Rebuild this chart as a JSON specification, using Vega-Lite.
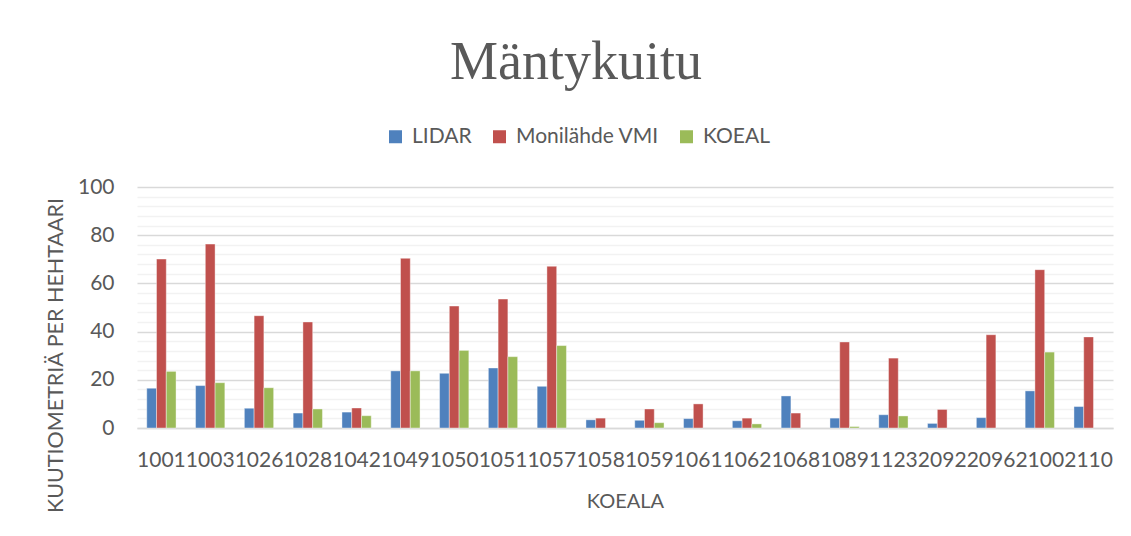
{
  "$schema": "https://vega.github.io/schema/vega-lite/v6.json",
  "autosize": {"type": "none"},
  "width": 976,
  "height": 241,
  "padding": {"left": 137, "top": 187, "right": 18, "bottom": 108},
  "background": "white",
  "title": {
    "text": "Mäntykuitu",
    "font": "Liberation Serif",
    "fontSize": 54,
    "fontWeight": "normal",
    "color": "#595959",
    "anchor": "middle",
    "frame": "group",
    "dx": -49,
    "offset": 36
  },
  "data": {
    "values": [
      {"koeala": "1001", "sarja": "LIDAR", "arvo": 16.5},
      {"koeala": "1001", "sarja": "Monilähde VMI", "arvo": 70.1},
      {"koeala": "1001", "sarja": "KOEAL", "arvo": 23.5},
      {"koeala": "1003", "sarja": "LIDAR", "arvo": 17.6},
      {"koeala": "1003", "sarja": "Monilähde VMI", "arvo": 76.3},
      {"koeala": "1003", "sarja": "KOEAL", "arvo": 18.8},
      {"koeala": "1026", "sarja": "LIDAR", "arvo": 8.2},
      {"koeala": "1026", "sarja": "Monilähde VMI", "arvo": 46.6},
      {"koeala": "1026", "sarja": "KOEAL", "arvo": 16.7},
      {"koeala": "1028", "sarja": "LIDAR", "arvo": 6.2},
      {"koeala": "1028", "sarja": "Monilähde VMI", "arvo": 44.0},
      {"koeala": "1028", "sarja": "KOEAL", "arvo": 7.9},
      {"koeala": "1042", "sarja": "LIDAR", "arvo": 6.6},
      {"koeala": "1042", "sarja": "Monilähde VMI", "arvo": 8.3},
      {"koeala": "1042", "sarja": "KOEAL", "arvo": 5.1},
      {"koeala": "1049", "sarja": "LIDAR", "arvo": 23.7},
      {"koeala": "1049", "sarja": "Monilähde VMI", "arvo": 70.4},
      {"koeala": "1049", "sarja": "KOEAL", "arvo": 23.7},
      {"koeala": "1050", "sarja": "LIDAR", "arvo": 22.7},
      {"koeala": "1050", "sarja": "Monilähde VMI", "arvo": 50.6},
      {"koeala": "1050", "sarja": "KOEAL", "arvo": 32.2},
      {"koeala": "1051", "sarja": "LIDAR", "arvo": 24.9},
      {"koeala": "1051", "sarja": "Monilähde VMI", "arvo": 53.5},
      {"koeala": "1051", "sarja": "KOEAL", "arvo": 29.6},
      {"koeala": "1057", "sarja": "LIDAR", "arvo": 17.3},
      {"koeala": "1057", "sarja": "Monilähde VMI", "arvo": 67.1},
      {"koeala": "1057", "sarja": "KOEAL", "arvo": 34.2},
      {"koeala": "1058", "sarja": "LIDAR", "arvo": 3.4},
      {"koeala": "1058", "sarja": "Monilähde VMI", "arvo": 4.1},
      {"koeala": "1059", "sarja": "LIDAR", "arvo": 3.2},
      {"koeala": "1059", "sarja": "Monilähde VMI", "arvo": 7.9},
      {"koeala": "1059", "sarja": "KOEAL", "arvo": 2.2},
      {"koeala": "1061", "sarja": "LIDAR", "arvo": 3.9},
      {"koeala": "1061", "sarja": "Monilähde VMI", "arvo": 10.0},
      {"koeala": "1062", "sarja": "LIDAR", "arvo": 3.0},
      {"koeala": "1062", "sarja": "Monilähde VMI", "arvo": 4.1},
      {"koeala": "1062", "sarja": "KOEAL", "arvo": 1.7},
      {"koeala": "1068", "sarja": "LIDAR", "arvo": 13.3},
      {"koeala": "1068", "sarja": "Monilähde VMI", "arvo": 6.2},
      {"koeala": "1089", "sarja": "LIDAR", "arvo": 4.1},
      {"koeala": "1089", "sarja": "Monilähde VMI", "arvo": 35.7},
      {"koeala": "1089", "sarja": "KOEAL", "arvo": 0.6},
      {"koeala": "1123", "sarja": "LIDAR", "arvo": 5.5},
      {"koeala": "1123", "sarja": "Monilähde VMI", "arvo": 29.0},
      {"koeala": "1123", "sarja": "KOEAL", "arvo": 5.0},
      {"koeala": "2092", "sarja": "LIDAR", "arvo": 1.9},
      {"koeala": "2092", "sarja": "Monilähde VMI", "arvo": 7.7},
      {"koeala": "2096", "sarja": "LIDAR", "arvo": 4.3},
      {"koeala": "2096", "sarja": "Monilähde VMI", "arvo": 38.7},
      {"koeala": "2100", "sarja": "LIDAR", "arvo": 15.4},
      {"koeala": "2100", "sarja": "Monilähde VMI", "arvo": 65.7},
      {"koeala": "2100", "sarja": "KOEAL", "arvo": 31.5},
      {"koeala": "2110", "sarja": "LIDAR", "arvo": 8.9},
      {"koeala": "2110", "sarja": "Monilähde VMI", "arvo": 37.8}
    ]
  },
  "mark": {"type": "bar", "stroke": "white", "strokeWidth": 0.4},
  "encoding": {
    "x": {
      "field": "koeala",
      "type": "nominal",
      "sort": null,
      "scale": {"paddingInner": 0.4, "paddingOuter": 0.2},
      "axis": {
        "title": "KOEALA",
        "titleFont": "Lato",
        "titleFontSize": 20,
        "titleFontWeight": "normal",
        "titleColor": "#595959",
        "titleBaseline": "alphabetic",
        "titleY": 79,
        "labelAngle": 0,
        "labelFont": "Lato",
        "labelFontSize": 21,
        "labelColor": "#595959",
        "labelPadding": 21,
        "labelOverlap": false,
        "labelBound": false,
        "labelFlush": false,
        "ticks": false,
        "domainColor": "#D9D9D9",
        "domainWidth": 1.5,
        "grid": false
      }
    },
    "xOffset": {
      "field": "sarja",
      "type": "nominal",
      "sort": ["LIDAR", "Monilähde VMI", "KOEAL"]
    },
    "y": {
      "field": "arvo",
      "type": "quantitative",
      "scale": {"domain": [0, 100], "nice": false},
      "axis": {
        "title": "KUUTIOMETRIÄ PER HEHTAARI",
        "titleFont": "Lato",
        "titleFontSize": 21.5,
        "titleFontWeight": "normal",
        "titleColor": "#595959",
        "titleX": -81,
        "titleY": 168,
        "titleAngle": -90,
        "titleAlign": "center",
        "titleBaseline": "middle",
        "values": [0, 4, 8, 12, 16, 20, 24, 28, 32, 36, 40, 44, 48, 52, 56, 60, 64, 68, 72, 76, 80, 84, 88, 92, 96, 100],
        "labelExpr": "datum.value % 20 === 0 ? datum.label : ''",
        "labelFont": "Lato",
        "labelFontSize": 21,
        "labelColor": "#595959",
        "labelPadding": 23,
        "ticks": false,
        "domain": false,
        "grid": true,
        "gridColor": {"condition": {"test": "datum.value % 20 === 0", "value": "#D9D9D9"}, "value": "#F2F2F2"},
        "gridWidth": 1.3
      }
    },
    "color": {
      "field": "sarja",
      "type": "nominal",
      "sort": ["LIDAR", "Monilähde VMI", "KOEAL"],
      "scale": {"domain": ["LIDAR", "Monilähde VMI", "KOEAL"], "range": ["#4F81BD", "#C0504D", "#9BBB59"]},
      "legend": {
        "title": null,
        "orient": "none",
        "direction": "horizontal",
        "columns": 3,
        "legendX": 248,
        "legendY": -61,
        "symbolType": "square",
        "symbolSize": 169,
        "symbolStrokeWidth": 0,
        "symbolOpacity": 1,
        "labelFont": "Lato",
        "labelFontSize": 21,
        "labelColor": "#595959",
        "labelOffset": 6,
        "columnPadding": 17
      }
    }
  },
  "config": {"view": {"stroke": null}}
}
